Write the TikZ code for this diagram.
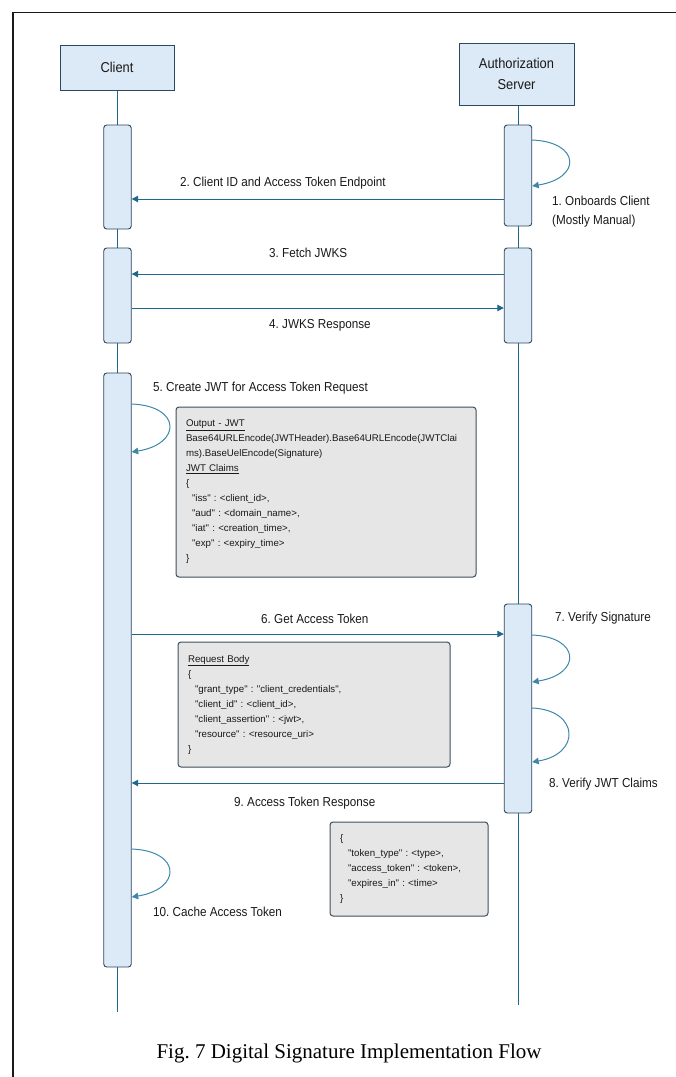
\documentclass[tikz,border=0pt]{standalone}
\usepackage{fontspec}
\setmainfont{Liberation Serif}
\newfontfamily\diagfont[FakeStretch=0.9]{Liberation Sans}
\newfontfamily\notefont{Liberation Sans}
\usetikzlibrary{arrows.meta}
\frenchspacing

\definecolor{partfill}{RGB}{220,233,246}
\definecolor{partline}{RGB}{44,72,92}
\definecolor{flow}{RGB}{30,104,140}
\definecolor{selfflow}{RGB}{60,135,170}
\definecolor{notefill}{RGB}{230,230,230}
\definecolor{noteline}{RGB}{62,78,92}
\definecolor{ink}{RGB}{25,25,25}

\begin{document}
\begin{tikzpicture}[x=1pt,y=-1pt,
  participant/.style={draw=partline, fill=partfill, line width=1pt, inner sep=0pt,
    align=center, text=ink, font=\diagfont\fontsize{14.3}{21}\selectfont},
  actbar/.style={draw=partline, fill=partfill, line width=0.9pt, rounded corners=3pt,
    minimum width=27.5pt, inner sep=0pt},
  lifeline/.style={draw=flow, line width=0.8pt},
  msg/.style={draw=flow, line width=1pt, -{Triangle[length=6.5pt,width=6.5pt]}},
  selfmsg/.style={draw=selfflow, line width=1pt, -{Triangle[length=6.5pt,width=6.5pt]}},
  msglabel/.style={anchor=west, inner sep=0pt, text=ink, align=left,
    font=\diagfont\fontsize{13}{19}\selectfont\frenchspacing},
  note/.style={draw=noteline, fill=notefill, line width=1pt, rounded corners=3pt,
    inner xsep=10pt, inner ysep=0pt, align=left, text=ink,
    font=\notefont\fontsize{9.7}{15}\selectfont\frenchspacing},
  caption/.style={inner sep=0pt, text=black, font=\fontsize{21}{25}\selectfont},
]
\useasboundingbox (0,0) rectangle (676,1077);

% outer frame (open on the right and bottom)
\coordinate (frameBL) at (13,1077);
\coordinate (frameTL) at (13,12.5);
\coordinate (frameTR) at (676,12.5);
\draw[line width=1.9pt, black!90] (frameBL) -- (frameTL) -- (frameTR);

% participants
\node[participant, minimum width=114pt, minimum height=45pt] (client) at (117,67.5) {Client};
\node[participant, minimum width=115pt, minimum height=62pt] (auth) at (516.5,74) {Authorization\\Server};

% lifelines
\coordinate (clientEnd) at (117,1012);
\coordinate (authEnd) at (518,1005);
\draw[lifeline] (client.south) -- (clientEnd);
\draw[lifeline] (auth.south -| authEnd) -- (authEnd);

% activation bars
\node[actbar, minimum height=104pt] (A1) at (117.5,177) {};
\node[actbar, minimum height=95pt]  (A2) at (117.5,295.5) {};
\node[actbar, minimum height=594pt] (A3) at (117.5,670) {};
\node[actbar, minimum height=101pt] (B1) at (518,175.5) {};
\node[actbar, minimum height=95pt]  (B2) at (518,295.5) {};
\node[actbar, minimum height=209pt] (B3) at (518,708.5) {};

% 1. onboarding (self call)
\draw[selfmsg] (B1.east |- 0,140) .. controls +(48,2) and +(50,-8) .. (B1.east |- 0,186);
\node[msglabel] (l1) at (552,211.5) {1. Onboards Client\\(Mostly Manual)};

% 2. client id
\draw[msg] (B1.west |- 0,199) -- (A1.east |- 0,199);
\node[msglabel] (l2) at (180,183) {2. Client ID and Access Token Endpoint};

% 3./4. JWKS
\draw[msg] (B2.west |- 0,274) -- (A2.east |- 0,274);
\node[msglabel] (l3) at (269,253) {3. Fetch JWKS};
\draw[msg] (A2.east |- 0,308) -- (B2.west |- 0,308);
\node[msglabel] (l4) at (269,325) {4. JWKS Response};

% 5. create JWT (self call)
\draw[selfmsg] (A3.east |- 0,404) .. controls +(50,2) and +(50,-8) .. (A3.east |- 0,452);
\node[msglabel] (l5) at (153,388) {5. Create JWT for Access Token Request};
\node[note, minimum width=300pt, minimum height=170pt, text width=280pt] (jwt) at (326,492) {%
\underline{Output - JWT}\\
Base64URLEncode(JWTHeader).Base64URLEncode(JWTClai\\
ms).BaseUelEncode(Signature)\\
\underline{JWT Claims}\\
\{\\
\hspace*{6pt}"iss" : <client\_id>,\\
\hspace*{6pt}"aud" : <domain\_name>,\\
\hspace*{6pt}"iat" : <creation\_time>,\\
\hspace*{6pt}"exp" : <expiry\_time>\\
\}};

% 6. token request
\draw[msg] (A3.east |- 0,634) -- (B3.west |- 0,634);
\node[msglabel] (l6) at (261,619) {6. Get Access Token};
\node[note, minimum width=272pt, minimum height=125pt, text width=252pt] (req) at (314,704.5) {%
\underline{Request Body}\\
\{\\
\hspace*{7pt}"grant\_type" : "client\_credentials",\\
\hspace*{7pt}"client\_id" : <client\_id>,\\
\hspace*{7pt}"client\_assertion" : <jwt>,\\
\hspace*{7pt}"resource" : <resource\_uri>\\
\}};

% 7./8. verification (self calls)
\draw[selfmsg] (B3.east |- 0,635) .. controls +(48,2) and +(50,-8) .. (B3.east |- 0,682);
\node[msglabel] (l7) at (555,618) {7. Verify Signature};
\draw[selfmsg] (B3.east |- 0,708) .. controls +(47,2) and +(49,-8) .. (B3.east |- 0,762);
\node[msglabel] (l8) at (549,784) {8. Verify JWT Claims};

% 9. token response
\draw[msg] (B3.west |- 0,783) -- (A3.east |- 0,783);
\node[msglabel] (l9) at (234,803) {9. Access Token Response};
\node[note, minimum width=158pt, minimum height=94pt, text width=138pt] (resp) at (409,869) {%
\{\\
\hspace*{8pt}"token\_type" : <type>,\\
\hspace*{8pt}"access\_token" : <token>,\\
\hspace*{8pt}"expires\_in" : <time>\\
\}};

% 10. caching (self call)
\draw[selfmsg] (A3.east |- 0,849) .. controls +(50,2) and +(50,-8) .. (A3.east |- 0,897);
\node[msglabel] (l10) at (153,912) {10. Cache Access Token};

% caption
\node[caption] (cap) at (349,1053) {Fig. 7 Digital Signature Implementation Flow};
\end{tikzpicture}
\end{document}
